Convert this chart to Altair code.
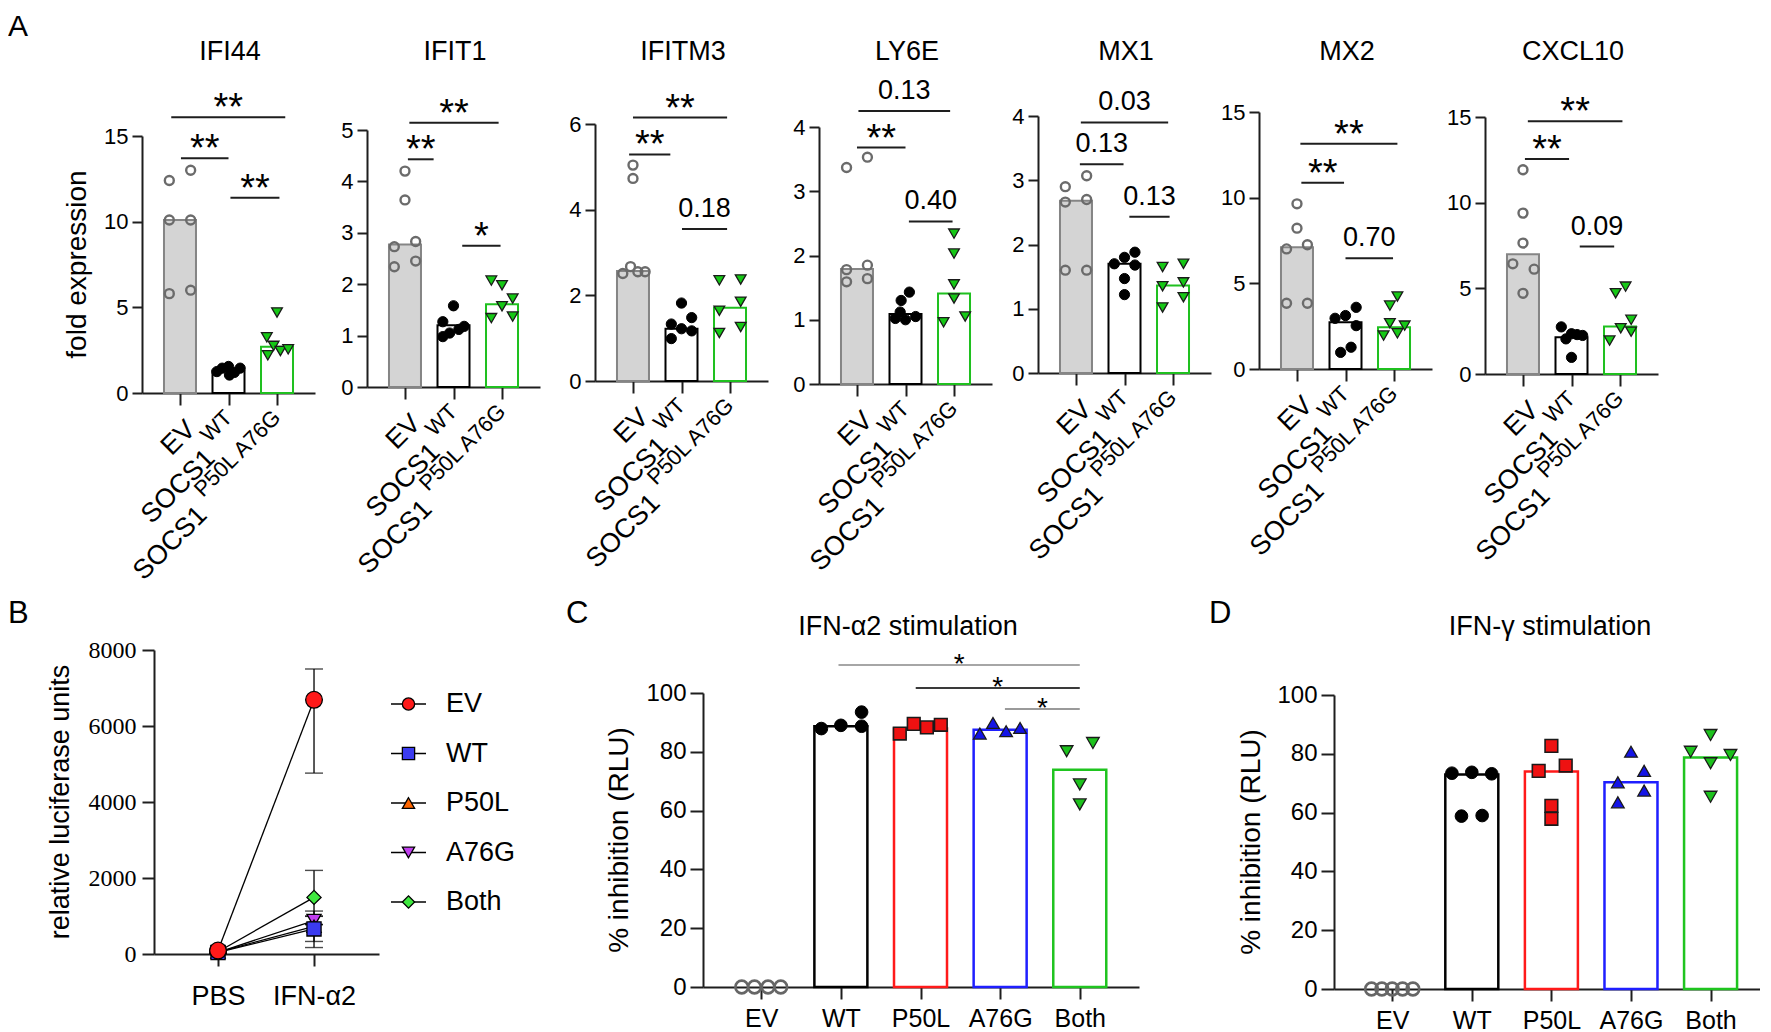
import json
import altair as alt
import pandas as pd

FONT = "Liberation Sans"
SERIF = "Liberation Serif, Times New Roman, DejaVu Serif, serif"

# ======================= Panel A data =======================
A_GROUPS = ["EV", "WT", "A76G"]
A_LABEL_MAIN = ["EV", "SOCS1", "SOCS1"]
A_LABEL_SUP = ["", "WT", "P50L A76G"]
GENES = ["IFI44", "IFIT1", "IFITM3", "LY6E", "MX1", "MX2", "CXCL10"]
Y_MAX = [15, 5, 6, 4, 4, 15, 15]
Y_STEP = [5, 1, 2, 1, 1, 5, 5]

IFI44_EV = [12.4, 13.0, 10.1, 10.1, 5.8, 6.0]
IFI44_WT = [1.25, 1.45, 1.55, 1.2, 1.45, 1.05]
IFI44_A76G = [4.7, 3.25, 2.75, 2.2, 2.45, 2.55]
IFI44_BARS = [10.1, 1.3, 2.7]
IFI44_SPREAD = [[-0.22, 0.22, -0.22, 0.22, -0.22, 0.22],
                [-0.24, -0.13, 0.0, 0.12, 0.24, 0.02],
                [0.0, -0.21, -0.07, -0.19, 0.07, 0.23]]
IFI44_SIG = [(0.02, 1.0, 13.7, "**"), (1.04, 2.05, 11.4, "**"), (-0.18, 2.17, 16.1, "**")]

IFIT1_EV = [4.2, 3.64, 2.73, 2.83, 2.34, 2.45]
IFIT1_WT = [1.58, 1.27, 1.18, 1.05, 0.98, 1.12]
IFIT1_A76G = [2.07, 1.98, 1.72, 1.57, 1.34, 1.37]
IFIT1_BARS = [2.77, 1.2, 1.61]
IFIT1_SPREAD = [[0.0, 0.0, -0.22, 0.22, -0.22, 0.22],
                [0.0, -0.22, 0.22, -0.08, -0.22, 0.11],
                [-0.22, 0.0, 0.22, 0.0, -0.22, 0.22]]
IFIT1_SIG = [(0.06, 0.59, 4.43, "**"), (0.09, 1.93, 5.14, "**"), (1.18, 1.97, 2.75, "*")]

IFITM3_EV = [5.04, 4.73, 2.51, 2.67, 2.55, 2.55]
IFITM3_WT = [1.82, 1.33, 1.48, 0.99, 1.22, 1.17]
IFITM3_A76G = [2.35, 2.37, 1.85, 1.64, 1.12, 1.26]
IFITM3_BARS = [2.57, 1.22, 1.71]
IFITM3_SPREAD = [[0.0, 0.0, -0.21, -0.05, 0.10, 0.25],
                 [0.0, -0.21, 0.21, -0.21, 0.0, 0.21],
                 [-0.22, 0.22, 0.22, -0.22, -0.22, 0.22]]
IFITM3_SIG = [(-0.08, 0.77, 5.29, "**"), (0.0, 1.94, 6.15, "**"), (1.01, 1.94, 3.55, "0.18")]

LY6E_EV = [3.37, 3.53, 1.78, 1.85, 1.59, 1.64]
LY6E_WT = [1.43, 1.30, 1.02, 1.00, 1.05, 1.12]
LY6E_A76G = [2.34, 2.03, 1.55, 1.33, 0.96, 1.05]
LY6E_BARS = [1.79, 1.09, 1.41]
LY6E_SPREAD = [[-0.215, 0.215, -0.215, 0.215, -0.215, 0.215],
               [0.08, -0.09, -0.21, 0.0, 0.21, -0.11],
               [0.0, 0.0, 0.0, 0.0, -0.215, 0.23]]
LY6E_SIG = [(0.0, 1.0, 3.68, "**"), (0.03, 1.92, 4.25, "0.13"), (1.07, 1.97, 2.53, "0.40")]

MX1_EV = [2.90, 3.07, 2.66, 2.70, 1.60, 1.60]
MX1_WT = [1.70, 1.80, 1.88, 1.68, 1.47, 1.22]
MX1_A76G = [1.65, 1.70, 1.35, 1.41, 1.02, 1.18]
MX1_BARS = [2.68, 1.70, 1.36]
MX1_SPREAD = [[-0.22, 0.22, -0.22, 0.22, -0.22, 0.22],
              [-0.21, 0.0, 0.215, 0.215, 0.0, 0.0],
              [-0.215, 0.215, -0.215, 0.215, -0.215, 0.215]]
MX1_SIG = [(0.08, 0.98, 3.25, "0.13"), (0.1, 1.9, 3.90, "0.03"), (1.1, 1.93, 2.43, "0.13")]

MX2_EV = [9.64, 8.22, 7.01, 7.25, 3.84, 3.84]
MX2_WT = [3.60, 2.96, 3.12, 2.53, 1.27, 0.97]
MX2_A76G = [4.23, 3.70, 2.67, 2.53, 1.95, 2.08]
MX2_BARS = [7.11, 2.73, 2.44]
MX2_SPREAD = [[0.0, 0.0, -0.215, 0.215, -0.215, 0.215],
              [0.22, -0.215, 0.0, 0.22, 0.115, -0.1],
              [0.07, -0.085, -0.085, 0.22, -0.215, 0.07]]
MX2_SIG = [(0.09, 0.97, 10.87, "**"), (0.07, 2.07, 13.15, "**"), (1.0, 1.98, 6.47, "0.70")]

CXCL10_EV = [11.92, 9.39, 7.64, 6.43, 6.12, 4.71]
CXCL10_WT = [2.75, 2.35, 2.25, 2.05, 2.3, 0.97]
CXCL10_A76G = [5.10, 4.71, 3.16, 2.67, 2.47, 1.95]
CXCL10_BARS = [6.99, 2.14, 2.77]
CXCL10_SPREAD = [[0.0, 0.0, 0.0, -0.21, 0.23, 0.0],
                 [-0.21, 0.0, 0.23, -0.115, 0.115, 0.0],
                 [0.115, -0.09, 0.23, 0.015, 0.23, -0.215]]
CXCL10_SIG = [(0.04, 0.95, 12.55, "**"), (0.1, 2.05, 14.75, "**"), (1.17, 1.88, 7.44, "0.09")]

A_POINTS = [
    (IFI44_EV, IFI44_WT, IFI44_A76G), (IFIT1_EV, IFIT1_WT, IFIT1_A76G),
    (IFITM3_EV, IFITM3_WT, IFITM3_A76G), (LY6E_EV, LY6E_WT, LY6E_A76G),
    (MX1_EV, MX1_WT, MX1_A76G), (MX2_EV, MX2_WT, MX2_A76G),
    (CXCL10_EV, CXCL10_WT, CXCL10_A76G)]
A_BARS = [IFI44_BARS, IFIT1_BARS, IFITM3_BARS, LY6E_BARS, MX1_BARS, MX2_BARS, CXCL10_BARS]
A_SPREAD = [IFI44_SPREAD, IFIT1_SPREAD, IFITM3_SPREAD, LY6E_SPREAD, MX1_SPREAD, MX2_SPREAD, CXCL10_SPREAD]
A_SIG = [IFI44_SIG, IFIT1_SIG, IFITM3_SIG, LY6E_SIG, MX1_SIG, MX2_SIG, CXCL10_SIG]

# ======================= Panel B data =======================
B_SERIES = ["EV", "WT", "P50L", "A76G", "Both"]
B_COND = ["PBS", "IFN-α2"]
B_PBS = [90, 40, 50, 45, 60]
B_PBS_LO = [50, 15, 20, 15, 25]
B_PBS_HI = [130, 65, 80, 75, 95]
B_IFN = [6690, 660, 730, 880, 1490]
B_IFN_LO = [4760, 170, 330, 770, 780]
B_IFN_HI = [7500, 1000, 1130, 990, 2200]

# ======================= Panels C / D data =======================
CD_GROUPS = ["EV", "WT", "P50L", "A76G", "Both"]
C_EV = [0, 0, 0, 0]
C_WT = [87.9, 89.0, 93.5, 88.7]
C_P50L = [86.2, 89.5, 88.3, 89.2]
C_A76G = [86.2, 89.8, 87.0, 88.1]
C_BOTH = [80.2, 83.0, 68.9, 62.1]
C_BARS = [0, 88.7, 87.9, 87.5, 73.9]
C_SPREAD = [[-0.245, -0.085, 0.085, 0.245], [-0.245, 0.0, 0.26, 0.26],
            [-0.26, -0.085, 0.08, 0.255], [-0.255, -0.09, 0.075, 0.25],
            [-0.165, 0.165, 0.0, 0.0]]
C_SIG = [(0.97, 4.0, 109.5, "*", "#a6a6a6"), (1.94, 4.0, 101.7, "*", "#3a3a3a"), (3.06, 4.0, 94.6, "*", "#9a9a9a")]

D_EV = [0, 0, 0, 0, 0]
D_WT = [73.4, 73.7, 73.2, 58.8, 59.0]
D_P50L = [82.7, 74.2, 76.0, 62.3, 57.9]
D_A76G = [80.7, 74.2, 70.3, 67.5, 63.5]
D_BOTH = [86.4, 80.7, 79.6, 76.8, 65.4]
D_BARS = [0, 73.0, 74.0, 70.3, 78.7]
D_SPREAD = [[-0.26, -0.13, 0.0, 0.13, 0.26], [-0.25, 0.0, 0.25, -0.13, 0.13],
            [0.0, -0.16, 0.18, 0.0, 0.0], [0.0, 0.165, -0.165, 0.165, -0.165],
            [0.0, -0.25, 0.25, 0.0, 0.0]]

# ======================= styles & layout =======================
A_BAR_FILL = ["#d4d4d4", "white", "white"]
A_BAR_STROKE = ["#858585", "black", "#1fc01f"]
A_PT_SHAPE = ["circle", "circle", "triangle-down"]
A_PT_FILL = ["transparent", "black", "#16c816"]
A_PT_STROKE = ["#6b6b6b", "black", "#1a1a1a"]
A_PT_SW = [2.4, 1.0, 1.3]
A_PT_SIZE = [80, 105, 115]

CD_BAR_STROKE = ["#777777", "black", "#ff1a1a", "#1f1fff", "#1fc41f"]
CD_PT_SHAPE = ["circle", "circle", "square", "triangle-up", "triangle-down"]
CD_PT_FILL = ["transparent", "black", "#ee1111", "#1414e6", "#1dc21d"]
CD_PT_STROKE = ["#666666", "black", "#1a1a1a", "#1a1a1a", "#1a1a1a"]
CD_PT_SW = [2.6, 1.0, 1.6, 1.3, 1.3]

B_FILL = ["#ff1a1a", "#3b3bf0", "#ff6600", "#c23ff0", "#3fe83f"]
B_SHAPE = ["circle", "square", "triangle-up", "triangle-down", "diamond"]
B_SIZE = [280, 200, 200, 200, 200]

AX = "#1e1e1e"
ROW1_TOP = 112
A_TOP = [136, 130, 124, 127, 116, 112, 117]
A_W, A_H = 173, 257
A_XDOM = [-0.68, 2.68]
A_GAPS = [52, 55, 51, 46, 48, 53]
A_LEFT0 = 142
SUP_DX = [0, -41, -121]
ROW_GAP = 13


def one(**kw):
    return pd.DataFrame({k: [v] for k, v in kw.items()})


def text_at(t, x, y, size, **kw):
    return alt.Chart(one(t=t)).mark_text(font=FONT, fontSize=size, color="black", **kw).encode(
        text="t:N", x=alt.value(x), y=alt.value(y))


def spacer(w):
    return alt.Chart(one(z=0)).mark_point(opacity=0, size=1).encode(
        x=alt.value(w / 2), y=alt.value(0)).properties(width=w, height=1)


def gene_panel(i):
    name, ymax, ystep = GENES[i], Y_MAX[i], Y_STEP[i]
    off = A_TOP[i] - ROW1_TOP
    H = off + A_H
    xs = alt.Scale(domain=A_XDOM, nice=False, zero=False)
    ys = alt.Scale(domain=[0, ymax], range=[H, off], nice=False, zero=False)

    bar_df = pd.DataFrame({"i": [0, 1, 2], "v": A_BARS[i], "z": [0, 0, 0],
                           "fill": A_BAR_FILL, "stroke": A_BAR_STROKE})
    rows = []
    for g, vals in enumerate(A_POINTS[i]):
        for v, s in zip(vals, A_SPREAD[i][g]):
            rows.append({"x": g + s, "v": v, "shape": A_PT_SHAPE[g], "fill": A_PT_FILL[g],
                         "stroke": A_PT_STROKE[g], "sw": A_PT_SW[g], "size": A_PT_SIZE[g]})
    pt_df = pd.DataFrame(rows)
    sig_df = pd.DataFrame(A_SIG[i], columns=["x1", "x2", "y", "lab"])
    sig_df["xm"] = (sig_df["x1"] + sig_df["x2"]) / 2

    layers = [
        alt.Chart(bar_df).mark_bar(size=32, strokeWidth=2, orient="vertical").encode(
            x=alt.X("i:Q", scale=xs, axis=alt.Axis(values=[0, 1, 2], labels=False, title=None, tickSize=12)),
            y=alt.Y("v:Q", scale=ys, axis=alt.Axis(values=list(range(0, ymax + 1, ystep)), title=None, format="d",
                                                    tickSize=10, labelPadding=4, labelFontSize=22)),
            y2="z:Q",
            fill=alt.Fill("fill:N", scale=None), stroke=alt.Stroke("stroke:N", scale=None)),
        alt.Chart(pt_df).mark_point(filled=True, opacity=1).encode(
            x=alt.X("x:Q", scale=xs), y=alt.Y("v:Q", scale=ys),
            shape=alt.Shape("shape:N", scale=None), fill=alt.Fill("fill:N", scale=None),
            stroke=alt.Stroke("stroke:N", scale=None), strokeWidth=alt.StrokeWidth("sw:Q", scale=None),
            size=alt.Size("size:Q", scale=None)),
        alt.Chart(sig_df).mark_rule(color=AX, strokeWidth=2).encode(
            x=alt.X("x1:Q", scale=xs), x2="x2:Q", y=alt.Y("y:Q", scale=ys)),
        alt.Chart(sig_df[sig_df["lab"].str.startswith("*")]).mark_text(
            font=FONT, fontSize=38, dy=-8, baseline="middle", color="black").encode(
            x=alt.X("xm:Q", scale=xs), y=alt.Y("y:Q", scale=ys), text="lab:N"),
        alt.Chart(sig_df[~sig_df["lab"].str.startswith("*")]).mark_text(
            font=FONT, fontSize=27, dy=-20, baseline="middle", color="black").encode(
            x=alt.X("xm:Q", scale=xs), y=alt.Y("y:Q", scale=ys), text="lab:N"),
        text_at(name, 88, -52, 27, align="center", baseline="alphabetic"),
    ]
    for k in range(3):
        layers.append(alt.Chart(one(i=k, t=A_LABEL_MAIN[k])).mark_text(
            font=FONT, fontSize=27, angle=315, align="right", baseline="middle",
            dx=SUP_DX[k], dy=16, color="black").encode(
            x=alt.X("i:Q", scale=xs), y=alt.value(H + 21), text="t:N"))
        if A_LABEL_SUP[k]:
            layers.append(alt.Chart(one(i=k, t=A_LABEL_SUP[k])).mark_text(
                font=FONT, fontSize=22, angle=315, align="right", baseline="middle",
                dx=0, dy=0, color="black").encode(
                x=alt.X("i:Q", scale=xs), y=alt.value(H + 21), text="t:N"))
    if i == 0:
        layers.append(text_at("A", 8 - A_LEFT0, 36 - ROW1_TOP, 30, align="left", baseline="alphabetic"))
        layers.append(text_at("fold expression", 78 - A_LEFT0, off + A_H / 2, 28, angle=270,
                              align="center", baseline="middle"))
    return alt.layer(*layers).properties(width=A_W, height=H)


# ---------------- panel B ----------------
def panel_b():
    W, H = 225, 304
    xs = alt.Scale(domain=[-0.667, 1.677], nice=False, zero=False)
    ys = alt.Scale(domain=[0, 8000], nice=False, zero=False)
    rows = []
    for j in reversed(range(len(B_SERIES))):
        for c, (m, lo, hi) in enumerate([(B_PBS[j], B_PBS_LO[j], B_PBS_HI[j]),
                                         (B_IFN[j], B_IFN_LO[j], B_IFN_HI[j])]):
            rows.append({"s": B_SERIES[j], "c": c, "m": m, "lo": lo, "hi": hi,
                         "shape": B_SHAPE[j], "fill": B_FILL[j], "size": B_SIZE[j]})
    df = pd.DataFrame(rows)
    lab = json.dumps(B_COND, ensure_ascii=False)
    layers = [
        alt.Chart(df).mark_line(color="black", strokeWidth=1.3).encode(
            x=alt.X("c:Q", scale=xs, axis=alt.Axis(values=[0, 1], labelExpr=f"{lab}[datum.value]", title=None,
                                                    tickSize=12, labelPadding=17, labelFontSize=27)),
            y=alt.Y("m:Q", scale=ys, axis=alt.Axis(values=[0, 2000, 4000, 6000, 8000], title=None, tickSize=12,
                                                    format="d", labelPadding=6, labelFont=SERIF,
                                                    labelFontSize=24)),
            detail="s:N"),
        alt.Chart(df).mark_rule(color="black", strokeWidth=1.3).encode(
            x=alt.X("c:Q", scale=xs), y=alt.Y("lo:Q", scale=ys), y2="hi:Q"),
        alt.Chart(df).mark_tick(color="black", orient="horizontal", size=18, thickness=1.4).encode(
            x=alt.X("c:Q", scale=xs), y=alt.Y("lo:Q", scale=ys)),
        alt.Chart(df).mark_tick(color="black", orient="horizontal", size=18, thickness=1.4).encode(
            x=alt.X("c:Q", scale=xs), y=alt.Y("hi:Q", scale=ys)),
        alt.Chart(df).mark_point(filled=True, opacity=1, stroke="black", strokeWidth=1.3).encode(
            x=alt.X("c:Q", scale=xs), y=alt.Y("m:Q", scale=ys),
            shape=alt.Shape("shape:N", scale=None), fill=alt.Fill("fill:N", scale=None),
            size=alt.Size("size:Q", scale=None)),
        text_at("B", 8 - 154, 623 - 650, 31, align="left", baseline="alphabetic"),
        text_at("relative luciferase units", 61 - 154, 152, 27, angle=270, align="center", baseline="middle"),
    ]
    return alt.layer(*layers).properties(width=W, height=H)


def legend_b():
    df = pd.DataFrame({"s": B_SERIES, "k": list(range(len(B_SERIES))), "shape": B_SHAPE, "fill": B_FILL})
    ys = alt.Scale(domain=[0, 4], range=[54, 252], nice=False, zero=False)
    y = alt.Y("k:Q", scale=ys, axis=None)
    layers = [
        alt.Chart(df).mark_rule(color="black", strokeWidth=1.3).encode(x=alt.value(0), x2=alt.value(35), y=y),
        alt.Chart(df).mark_point(filled=True, opacity=1, size=150, stroke="black", strokeWidth=1.3).encode(
            x=alt.value(17.5), y=y, shape=alt.Shape("shape:N", scale=None), fill=alt.Fill("fill:N", scale=None)),
        alt.Chart(df).mark_text(font=FONT, fontSize=27, align="left", baseline="middle", color="black").encode(
            x=alt.value(55), y=y, text="s:N"),
    ]
    return alt.layer(*layers).properties(width=35, height=300)


def panel_cd(letter, title, vals, bars, spread, sig, W, off, left, letter_x, title_x, ytitle_x):
    H = off + 294
    step = 81.5
    xs = alt.Scale(domain=[-54.5 / step, (W - 54.5) / step], nice=False, zero=False)
    ys = alt.Scale(domain=[0, 100], range=[H, off], nice=False, zero=False)
    bar_df = pd.DataFrame({"i": list(range(5)), "v": bars, "z": [0] * 5, "stroke": CD_BAR_STROKE})
    bar_df = bar_df[bar_df["v"] > 0]
    rows = []
    for g, vv in enumerate(vals):
        for v, s in zip(vv, spread[g]):
            rows.append({"x": g + s, "v": v, "shape": CD_PT_SHAPE[g], "fill": CD_PT_FILL[g],
                         "stroke": CD_PT_STROKE[g], "sw": CD_PT_SW[g]})
    pt_df = pd.DataFrame(rows)
    lab = json.dumps(CD_GROUPS, ensure_ascii=False)
    layers = [
        alt.Chart(bar_df).mark_bar(size=53, strokeWidth=2.5, fill="white", orient="vertical").encode(
            x=alt.X("i:Q", scale=xs, axis=alt.Axis(values=[0, 1, 2, 3, 4], labelExpr=f"{lab}[datum.value]",
                                                    title=None, tickSize=12, labelPadding=7, labelFontSize=25)),
            y=alt.Y("v:Q", scale=ys, axis=alt.Axis(values=[0, 20, 40, 60, 80, 100], title=None, tickSize=13,
                                                    format="d", labelPadding=4, labelFontSize=24)),
            y2="z:Q", stroke=alt.Stroke("stroke:N", scale=None)),
    ]
    if sig:
        sig_df = pd.DataFrame(sig, columns=["x1", "x2", "y", "lab", "col"])
        sig_df["xm"] = (sig_df["x1"] + sig_df["x2"]) / 2
        layers += [
            alt.Chart(sig_df).mark_rule(strokeWidth=2).encode(
                x=alt.X("x1:Q", scale=xs), x2="x2:Q", y=alt.Y("y:Q", scale=ys),
                color=alt.Color("col:N", scale=None)),
            alt.Chart(sig_df).mark_text(font=FONT, fontSize=28, baseline="middle", dy=0, color="black").encode(
                x=alt.X("xm:Q", scale=xs), y=alt.Y("y:Q", scale=ys), text="lab:N"),
        ]
    layers += [
        alt.Chart(pt_df).mark_point(filled=True, opacity=1, size=160).encode(
            x=alt.X("x:Q", scale=xs), y=alt.Y("v:Q", scale=ys),
            shape=alt.Shape("shape:N", scale=None), fill=alt.Fill("fill:N", scale=None),
            stroke=alt.Stroke("stroke:N", scale=None), strokeWidth=alt.StrokeWidth("sw:Q", scale=None)),
        text_at(letter, letter_x - left, 623 - 650, 31, align="left", baseline="alphabetic"),
        text_at(title, title_x - left, -15, 27, align="center", baseline="alphabetic"),
        text_at("% inhibition (RLU)", ytitle_x - left, off + 147, 28, angle=270, align="center", baseline="middle"),
    ]
    return alt.layer(*layers).properties(width=W, height=H)


row1 = []
for i in range(len(GENES)):
    row1.append(gene_panel(i))
    if i < len(GENES) - 1:
        row1.append(spacer(A_GAPS[i]))

C = panel_cd("C", "IFN-α2 stimulation", [C_EV, C_WT, C_P50L, C_A76G, C_BOTH], C_BARS, C_SPREAD, C_SIG,
             436, 43, 703, 566, 908, 620)
D = panel_cd("D", "IFN-γ stimulation", [D_EV, D_WT, D_P50L, D_A76G, D_BOTH], D_BARS, D_SPREAD, None,
             426, 45, 1334, 1209, 1550, 1252)

row2 = [spacer(12), panel_b(), spacer(12), legend_b(), spacer(277), C, spacer(195), D]

top = alt.HConcatChart(hconcat=row1, spacing=0, bounds="flush")
bottom = alt.HConcatChart(hconcat=row2, spacing=0, bounds="flush")

chart = alt.VConcatChart(vconcat=[top, bottom], spacing=ROW_GAP).properties(
    padding={"left": 0, "top": 4, "right": 0, "bottom": 0}).configure_view(
    strokeWidth=0).configure_axis(
    grid=False, domainColor=AX, domainWidth=2, tickColor=AX, tickWidth=2,
    labelColor="black", labelFont=FONT, labelFlush=False, labelOverlap=False, labelFontSize=22,
)

chart.save("out.html", embed_options={"renderer": "svg", "actions": False})
